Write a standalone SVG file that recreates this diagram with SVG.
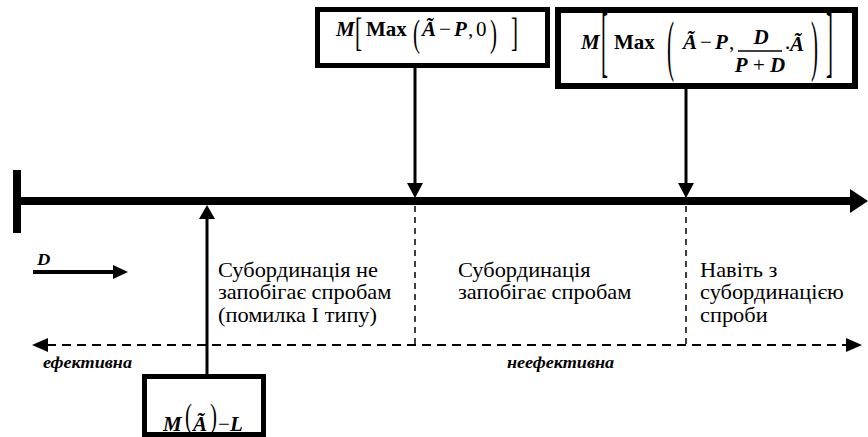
<svg xmlns="http://www.w3.org/2000/svg" width="868" height="437" viewBox="0 0 868 437">
  <style>
    .t { font-family: 'Liberation Serif', 'DejaVu Serif', serif; fill: #000; }
    .bi { font-size: 21px; font-weight: bold; font-style: italic; }
    .b { font-size: 21px; font-weight: bold; }
    .r { font-size: 21px; }
    .dl { font-size: 21px; font-weight: normal; }
    .body { font-size: 20px; }
    .lbl { font-size: 16.5px; font-weight: bold; font-style: italic; }
    .box { fill: #fff; stroke: #000; }
    .solid { stroke: #000; fill: none; }
    .dash { stroke: #000; fill: none; stroke-width: 2; stroke-dasharray: 9 6; }
    .vdash { stroke: #000; fill: none; stroke-width: 1.5; stroke-dasharray: 6 5; }
    .head { fill: #000; }
  </style>

  <!-- main axis with end stop and arrowhead -->
  <g id="axis">
    <rect x="13" y="170" width="8" height="63" fill="#000"/>
    <line class="solid" x1="17" y1="201" x2="852" y2="201" stroke-width="8"/>
    <polygon class="head" points="850,189 868,201 850,213"/>
  </g>

  <!-- direction of D -->
  <g id="d-arrow">
    <text class="t lbl" transform="translate(37 265) scale(1.12 1)">D</text>
    <line class="solid" x1="33" y1="272" x2="115" y2="272" stroke-width="4"/>
    <polygon class="head" points="113,265 128,272 113,279"/>
  </g>

  <!-- connectors -->
  <g id="connectors">
    <line class="solid" x1="415" y1="68" x2="415" y2="184" stroke-width="3"/>
    <polygon class="head" points="407,183 423,183 415,198"/>
    <line class="solid" x1="686" y1="89" x2="686" y2="184" stroke-width="3"/>
    <polygon class="head" points="678,183 694,183 686,198"/>
    <line class="solid" x1="207" y1="375" x2="207" y2="218" stroke-width="3"/>
    <polygon class="head" points="199,219 215,219 207,205"/>
    <line class="vdash" x1="415" y1="206" x2="415" y2="345"/>
    <line class="vdash" x1="686" y1="206" x2="686" y2="345"/>
    <line class="dash" x1="47" y1="345" x2="847" y2="345"/>
    <polygon class="head" points="32,345 48,338 48,352"/>
    <polygon class="head" points="862,345 846,338 846,352"/>
  </g>

  <!-- zone captions -->
  <g id="zone-1" transform="translate(218 0) scale(1.12 1)">
    <text class="t body" x="0" y="277">Субординація не</text>
    <text class="t body" x="0" y="299.5">запобігає спробам</text>
    <text class="t body" x="0" y="322">(помилка I типу)</text>
  </g>
  <g id="zone-2" transform="translate(458 0) scale(1.12 1)">
    <text class="t body" x="0" y="277">Субординація</text>
    <text class="t body" x="0" y="299.5">запобігає спробам</text>
  </g>
  <g id="zone-3" transform="translate(700 0) scale(1.12 1)">
    <text class="t body" x="0" y="277">Навіть з</text>
    <text class="t body" x="0" y="299.5">субординацією</text>
    <text class="t body" x="0" y="322">спроби</text>
  </g>
  <g id="efficiency-labels">
    <text class="t lbl" transform="translate(43 368) scale(1.1 1)">ефективна</text>
    <text class="t lbl" transform="translate(507 368) scale(1.1 1)">неефективна</text>
  </g>

  <!-- M[Max(Ã − P, 0)] -->
  <g id="node-box1">
    <rect class="box" x="317.5" y="9.5" width="230" height="56" stroke-width="5"/>
    <text class="t bi" x="336" y="36">M</text>
    <text class="t dl" transform="translate(355 46) scale(1 1.95)">[</text>
    <text class="t b" x="366" y="36">Max</text>
    <text class="t dl" transform="translate(413 46) scale(1 1.85)">(</text>
    <text class="t bi" x="422" y="36">Ã</text>
    <text class="t r" x="439" y="36">−</text>
    <text class="t bi" x="454" y="36">P</text>
    <text class="t r" x="468" y="36">,</text>
    <text class="t r" x="476" y="36">0</text>
    <text class="t dl" transform="translate(490 46) scale(1 1.85)">)</text>
    <text class="t dl" transform="translate(511 46) scale(1 1.95)">]</text>
  </g>

  <!-- M[Max(Ã − P, D/(P + D) · Ã)] -->
  <g id="node-box2">
    <rect class="box" x="558" y="10" width="297" height="76" stroke-width="6"/>
    <text class="t bi" x="581" y="49">M</text>
    <text class="t dl" transform="translate(601 68) scale(1 3.74)">[</text>
    <text class="t b" x="614" y="49">Max</text>
    <text class="t dl" transform="translate(667 68) scale(1 3.24)">(</text>
    <text class="t bi" x="683" y="49">Ã</text>
    <text class="t r" x="700" y="49">−</text>
    <text class="t bi" x="715" y="49">P</text>
    <text class="t r" x="729" y="49">,</text>
    <text class="t bi" x="761" y="44" text-anchor="middle">D</text>
    <line class="solid" x1="738" y1="51" x2="782" y2="51" stroke-width="1.5"/>
    <text class="t" x="760" y="72" text-anchor="middle"><tspan class="bi">P</tspan><tspan class="r"> + </tspan><tspan class="bi">D</tspan></text>
    <text class="t r" x="784" y="55">⋅</text>
    <text class="t bi" x="790" y="51">Ã</text>
    <text class="t dl" transform="translate(811 68) scale(1 3.24)">)</text>
    <text class="t dl" transform="translate(826 68) scale(1 3.74)">]</text>
  </g>

  <!-- M(Ã) − L -->
  <g id="node-box3">
    <rect class="box" x="144.5" y="376.5" width="119" height="58" stroke-width="5"/>
    <text class="t bi" x="163" y="431">M</text>
    <text class="t dl" transform="translate(185 427) scale(1 1.56)">(</text>
    <text class="t bi" x="193" y="431">Ã</text>
    <text class="t dl" transform="translate(210 427) scale(1 1.56)">)</text>
    <text class="t r" x="218" y="431">−</text>
    <text class="t bi" x="230" y="431">L</text>
  </g>
</svg>
